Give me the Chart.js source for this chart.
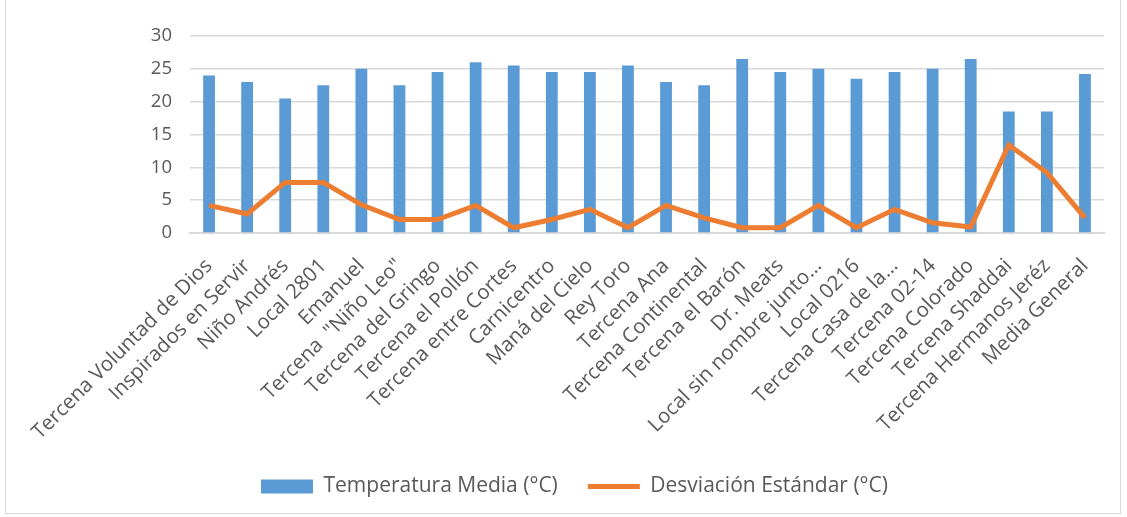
<!DOCTYPE html>
<html>
<head>
<meta charset="utf-8">
<script src="https://cdn.jsdelivr.net/npm/chart.js@4.4.1/dist/chart.umd.min.js"></script>
<style>
    html, body { margin: 0; padding: 0; background: #fff; }
    #wrap { position: absolute; left: 5px; top: 0; width: 1116px; height: 514px; border: 1px solid #d9d9d9; border-top: none; box-sizing: border-box; }
    #holder { position: absolute; left: 0; top: 0; width: 1127px; height: 517px; }
</style>
</head>
<body>
<div id="wrap"></div>
<div id="holder"><canvas id="chart"></canvas></div>
<script>
// Locales y valores
const locales = [
    'Tercena Voluntad de Dios', 'Inspirados en Servir', 'Niño Andrés', 'Local 2801', 'Emanuel',
    'Tercena  "Niño Leo"', 'Tercena del Gringo', 'Tercena el Pollón', 'Tercena entre Cortes',
    'Carnicentro', 'Maná del Cielo', 'Rey Toro', 'Tercena Ana', 'Tercena Continental',
    'Tercena el Barón', 'Dr. Meats', 'Local sin nombre junto…', 'Local 0216', 'Tercena Casa de la…',
    'Tercena 02-14', 'Tercena Colorado', 'Tercena Shaddai', 'Tercena Hermanos Jeréz', 'Media General'
];
const temperaturaMedia = [24, 23, 20.5, 22.5, 25, 22.5, 24.5, 26, 25.5, 24.5, 24.5, 25.5,
    23, 22.5, 26.5, 24.5, 25, 23.5, 24.5, 25, 26.5, 18.5, 18.5, 24.2];
const desviacion = [4.2, 2.9, 7.7, 7.7, 4.3, 2.05, 2.05, 4.2, 0.8, 2.05, 3.6, 0.8,
    4.2, 2.3, 0.8, 0.8, 4.2, 0.8, 3.6, 1.55, 0.9, 13.4, 9.2, 2.3];
const yTicks = [0, 5, 10, 15, 20, 25, 30];

const COLORS = { bar: '#5b9bd5', line: '#ed7d31', grid: '#d9d9d9', text: '#595959' };
const FONT = "'Open Sans', sans-serif";

new Chart(document.getElementById('chart'), {
    data: {
        labels: locales,
        datasets: [
            {
                type: 'line',
                label: 'Desviación Estándar (°C)',
                data: desviacion,
                borderColor: COLORS.line,
                backgroundColor: COLORS.line,
                borderWidth: 5,
                pointRadius: 0,
                tension: 0,
                order: 0
            },
            {
                type: 'bar',
                label: 'Temperatura Media (°C)',
                data: temperaturaMedia,
                backgroundColor: COLORS.bar,
                barPercentage: 0.31,
                categoryPercentage: 1,
                order: 1
            }
        ]
    },
    options: {
        responsive: true,
        maintainAspectRatio: false,
        animation: false,
        layout: { padding: { top: 36, right: 23, left: 45, bottom: 10 } },
        scales: {
            x: {
                grid: { display: false, drawTicks: false },
                border: { color: COLORS.grid, width: 2 },
                ticks: {
                    color: COLORS.text,
                    font: { family: FONT, size: 20.5 },
                    maxRotation: 45, minRotation: 45,
                    autoSkip: false,
                    padding: 21
                },
                afterFit: s => { s.height = 213; }
            },
            y: {
                min: 0, max: 30,
                afterBuildTicks: s => { s.ticks = yTicks.map(v => ({ value: v })); },
                grid: { color: COLORS.grid, lineWidth: 1.5, drawTicks: false },
                border: { display: false },
                ticks: {
                    color: COLORS.text,
                    font: { family: FONT, size: 18.5 },
                    padding: 18
                },
                afterFit: s => { s.width = 145; }
            }
        },
        plugins: {
            legend: {
                position: 'bottom',
                reverse: true,
                labels: {
                    color: COLORS.text,
                    font: { family: FONT, size: 21 },
                    usePointStyle: true,
                    pointStyleWidth: 52,
                    boxHeight: 14,
                    padding: 30,
                    generateLabels: chart => chart.data.datasets.map((ds, i) => ({
                        text: ds.label,
                        fillStyle: ds.backgroundColor,
                        strokeStyle: ds.type === 'line' ? COLORS.line : COLORS.bar,
                        lineWidth: ds.type === 'line' ? 5 : 0,
                        pointStyle: ds.type === 'line' ? 'line' : 'rect',
                        fontColor: COLORS.text,
                        datasetIndex: i,
                        hidden: false
                    }))
                }
            },
            tooltip: { enabled: false }
        }
    }
});
</script>
</body>
</html>
